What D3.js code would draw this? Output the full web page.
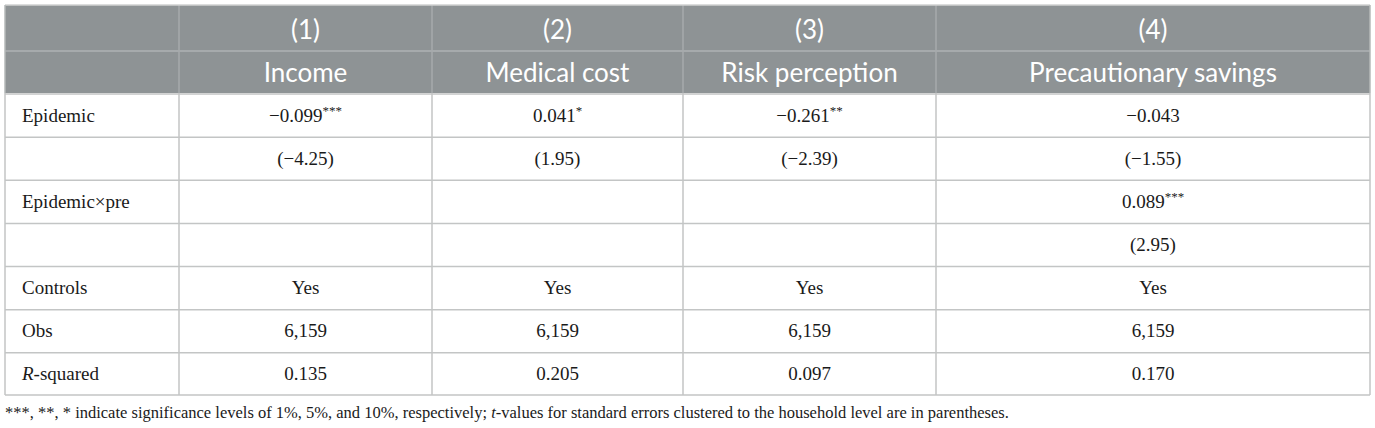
<!DOCTYPE html>
<html>
<head>
<meta charset="utf-8">
<script src="https://cdn.jsdelivr.net/npm/d3@7"></script>
<style>
  body { margin: 0; background: #fff; }
  .head { font-family: Lato, "Open Sans", sans-serif; fill: #fff; }
  .cell { font-family: "Liberation Serif", "DejaVu Serif", serif; fill: #1a1a1a; }
</style>
</head>
<body>
<svg id="table"></svg>
<script>
// column headers
const models = ['(1)', '(2)', '(3)', '(4)'];
const outcomes = ['Income', 'Medical cost', 'Risk perception', 'Precautionary savings'];

// row labels (empty = t-value row)
const rowLabels = ['Epidemic', '', 'Epidemic×pre', '', 'Controls', 'Obs', 'R-squared'];

// estimates
const epidemicCoef = [-0.099, 0.041, -0.261, -0.043];
const epidemicStars = ['***', '*', '**', ''];
const epidemicT = [-4.25, 1.95, -2.39, -1.55];
const interCoef = [null, null, null, 0.089];
const interStars = ['', '', '', '***'];
const interT = [null, null, null, 2.95];
const controls = ['Yes', 'Yes', 'Yes', 'Yes'];
const obs = [6159, 6159, 6159, 6159];
const rSquared = [0.135, 0.205, 0.097, 0.170];

const note = ['***, **, * indicate significance levels of 1%, 5%, and 10%, respectively; ',
  't', '-values for standard errors clustered to the household level are in parentheses.'];

const W = 1375, H = 428;
const tLeft = 5, tRight = 1370, tTop = 5;
const headMid = 51, headBottom = 93, tBottom = 395;
// column edges: label column then four model columns
const colEdges = [tLeft, 179, 432, 683, 936, tRight];

const f3 = d3.format('.3f');
const f2 = d3.format('.2f');
const fComma = d3.format(',');

const coefCell = (v, s) => v == null ? null : { text: f3(v), sup: s };
const tCell = v => v == null ? null : { text: '(' + f2(v) + ')', sup: '' };

const rows = [
  epidemicCoef.map((v, i) => coefCell(v, epidemicStars[i])),
  epidemicT.map(tCell),
  interCoef.map((v, i) => coefCell(v, interStars[i])),
  interT.map(tCell),
  controls.map(v => ({ text: v, sup: '' })),
  obs.map(v => ({ text: fComma(v), sup: '' })),
  rSquared.map(v => ({ text: f3(v), sup: '' }))
];

const svg = d3.select('#table').attr('width', W).attr('height', H);

const y = d3.scaleBand()
  .domain(d3.range(rowLabels.length))
  .range([headBottom, tBottom]);

const colMid = i => (colEdges[i] + colEdges[i + 1]) / 2;

// header background
svg.append('rect')
  .attr('x', tLeft).attr('y', tTop)
  .attr('width', tRight - tLeft).attr('height', headBottom - tTop)
  .attr('fill', '#8e9395');

// header grid
svg.append('line')
  .attr('x1', tLeft).attr('x2', tRight)
  .attr('y1', headMid).attr('y2', headMid)
  .attr('stroke', '#a6aaac').attr('stroke-width', 2);
svg.selectAll('.hv')
  .data(colEdges.slice(1, -1))
  .enter().append('line')
  .attr('x1', d => d).attr('x2', d => d)
  .attr('y1', tTop).attr('y2', headBottom)
  .attr('stroke', '#a6aaac').attr('stroke-width', 1.5);

// header text
svg.selectAll('.m')
  .data(models)
  .enter().append('text')
  .attr('class', 'head')
  .attr('x', (d, i) => colMid(i + 1))
  .attr('y', 39)
  .attr('text-anchor', 'middle')
  .attr('font-size', 26)
  .text(d => d);
svg.selectAll('.o')
  .data(outcomes)
  .enter().append('text')
  .attr('class', 'head')
  .attr('x', (d, i) => colMid(i + 1))
  .attr('y', 82)
  .attr('text-anchor', 'middle')
  .attr('font-size', 26)
  .text(d => d);

// body grid
const grid = svg.append('g').attr('stroke', '#c3c5c5').attr('stroke-width', 1.5);
grid.selectAll('.rh')
  .data(d3.range(rowLabels.length + 1))
  .enter().append('line')
  .attr('x1', tLeft).attr('x2', tRight)
  .attr('y1', d => d < rowLabels.length ? y(d) + 1 : tBottom)
  .attr('y2', d => d < rowLabels.length ? y(d) + 1 : tBottom);
grid.selectAll('.cv')
  .data(colEdges)
  .enter().append('line')
  .attr('x1', d => d).attr('x2', d => d)
  .attr('y1', headBottom).attr('y2', tBottom);
// outer sides of header
svg.append('line')
  .attr('x1', tLeft).attr('x2', tRight).attr('y1', tTop).attr('y2', tTop)
  .attr('stroke', '#d0d2d2').attr('stroke-width', 1.5);
[tLeft, tRight].forEach(x => svg.append('line')
  .attr('x1', x).attr('x2', x).attr('y1', tTop).attr('y2', headBottom)
  .attr('stroke', '#b5b8b9').attr('stroke-width', 1.5));

// row labels
const labels = svg.selectAll('.rl')
  .data(rowLabels)
  .enter().append('text')
  .attr('class', 'cell')
  .attr('x', tLeft + 17)
  .attr('y', (d, i) => y(i) + y.bandwidth() / 2 + 7)
  .attr('font-size', 19);
labels.each(function (d) {
  const t = d3.select(this);
  if (d === 'R-squared') {
    t.append('tspan').attr('font-style', 'italic').text('R');
    t.append('tspan').text('-squared');
  } else {
    t.text(d);
  }
});

// cells
rows.forEach((r, ri) => {
  r.forEach((c, ci) => {
    if (!c) return;
    const t = svg.append('text')
      .attr('class', 'cell')
      .attr('x', colMid(ci + 1))
      .attr('y', y(ri) + y.bandwidth() / 2 + 7)
      .attr('text-anchor', 'middle')
      .attr('font-size', 19);
    t.append('tspan').text(c.text);
    if (c.sup) {
      t.append('tspan').attr('font-size', 13).attr('dy', -7).text(c.sup);
    }
  });
});

// footnote
const fn = svg.append('text')
  .attr('class', 'cell')
  .attr('x', tLeft)
  .attr('y', 418)
  .attr('font-size', 16.5);
fn.append('tspan').text(note[0]);
fn.append('tspan').attr('font-style', 'italic').text(note[1]);
fn.append('tspan').text(note[2]);
</script>
</body>
</html>
